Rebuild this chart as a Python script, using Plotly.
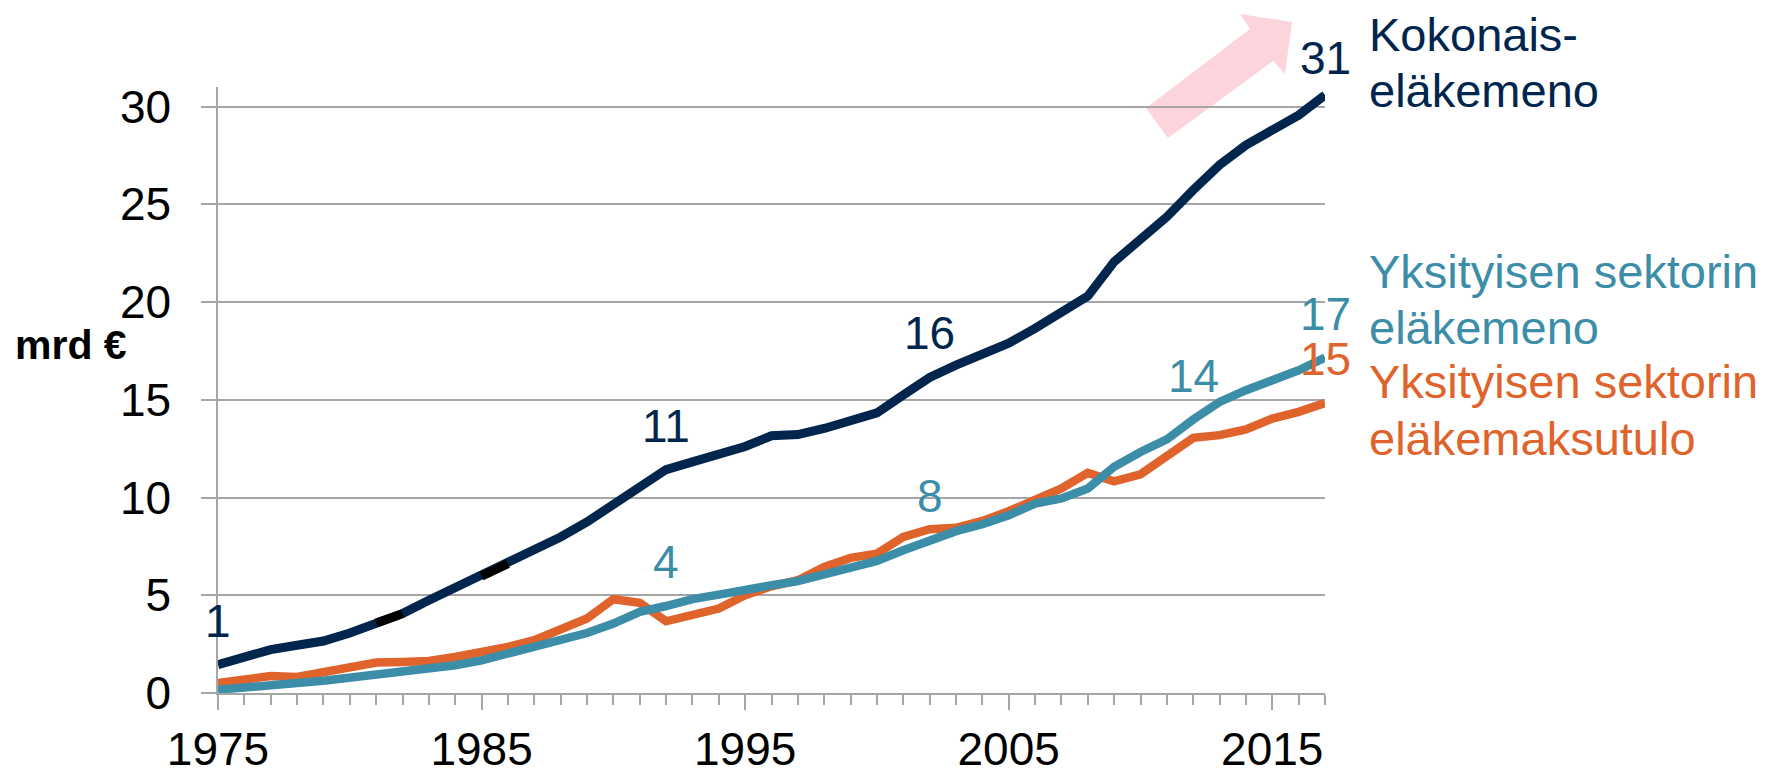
import plotly.graph_objects as go

# Eläkemenot ja maksutulo, mrd €
years = list(range(1975, 2018))

kokonais = [1.45, 1.84, 2.22, 2.44, 2.66, 3.07, 3.58, 4.06, 4.74, 5.39,
            5.98, 6.62, 7.30, 7.98, 8.75, 9.61, 10.54, 11.43, 11.82, 12.16,
            12.61, 13.16, 13.22, 13.53, 13.92, 14.33, 15.24, 16.14, 16.77, 17.37,
            17.90, 18.65, 19.50, 20.30, 22.06, 23.17, 24.36, 25.73, 27.01, 28.03,
            28.80, 29.56, 30.59]

yks_meno = [0.17, 0.31, 0.46, 0.51, 0.63, 0.77, 0.91, 1.06, 1.25, 1.42,
            1.67, 2.02, 2.30, 2.65, 3.07, 3.55, 4.15, 4.45, 4.80, 5.03,
            5.30, 5.51, 5.72, 6.07, 6.40, 6.76, 7.30, 7.81, 8.28, 8.63,
            9.09, 9.69, 9.95, 10.46, 11.57, 12.33, 12.97, 13.99, 14.89, 15.49,
            16.00, 16.51, 17.16]

yks_maksu = [0.51, 0.69, 0.87, 0.82, 1.07, 1.42, 1.56, 1.59, 1.64, 1.84,
             2.08, 2.36, 2.70, 3.21, 3.81, 4.80, 4.61, 3.67, 4.03, 4.32,
             5.00, 5.46, 5.77, 6.45, 6.91, 7.13, 7.98, 8.38, 8.45, 8.80,
             9.30, 9.86, 10.46, 11.26, 10.83, 11.19, 12.16, 13.05, 13.19, 13.48,
             14.04, 14.38, 14.84]

# vuodet, joille arvo näytetään viivan yläpuolella
label_years_kokonais = [1975, 1992, 2002, 2017]
label_years_yks_meno = [1992, 2002, 2012, 2017]
label_years_yks_maksu = [2017]

# mustat pätkät alkuperäisessä kuvassa
black_years = [1981, 1982, None, 1985, 1986]

NAVY = "#00264d"
TEAL = "#3b8da8"
ORANGE = "#e0632b"
GRID = "#a6a6a6"
FONT = "Liberation Sans, Arial, sans-serif"

W, H = 1772, 771
L, R, T, B = 218, 447, 87, 78
PW, PH = W - L - R, H - T - B


def paper(px, py):
    return (px - L) / PW, (H - B - py) / PH


fig = go.Figure()

fig.add_trace(go.Scatter(x=years, y=yks_maksu, mode="lines", name="Yksityisen sektorin eläkemaksutulo",
                         line=dict(color=ORANGE, width=8.5)))
fig.add_trace(go.Scatter(x=years, y=yks_meno, mode="lines", name="Yksityisen sektorin eläkemeno",
                         line=dict(color=TEAL, width=8.5)))
fig.add_trace(go.Scatter(x=years, y=kokonais, mode="lines", name="Kokonaiseläkemeno",
                         line=dict(color=NAVY, width=9)))
fig.add_trace(go.Scatter(
    x=black_years,
    y=[kokonais[years.index(y)] if y else None for y in black_years],
    mode="lines", line=dict(color="black", width=9), connectgaps=False,
))

# arvot viivojen yläpuolelle
for yrs, vals, col in [(label_years_kokonais, kokonais, NAVY),
                       (label_years_yks_meno, yks_meno, TEAL),
                       (label_years_yks_maksu, yks_maksu, ORANGE)]:
    for yr in yrs:
        v = vals[years.index(yr)]
        shift = 37 if v > 30 else 44  # ylin nimiö on lähempänä viivaa
        fig.add_annotation(x=yr, y=v, text=str(round(v)), showarrow=False,
                           yshift=shift, xanchor="center", yanchor="middle",
                           font=dict(size=46, color=col, family=FONT))

# sarjojen nimet oikealla
side_labels = [
    ("Kokonais-", 34, NAVY), ("eläkemeno", 90, NAVY),
    ("Yksityisen sektorin", 271, TEAL), ("eläkemeno", 327, TEAL),
    ("Yksityisen sektorin", 382, ORANGE), ("eläkemaksutulo", 438, ORANGE),
]
for text, py, col in side_labels:
    xp, yp = paper(1367, py)
    fig.add_annotation(xref="paper", yref="paper", x=xp, y=yp, text=text,
                       showarrow=False, xanchor="left", yanchor="middle",
                       font=dict(size=47, color=col, family=FONT))

xp, yp = paper(13, 345)
fig.add_annotation(xref="paper", yref="paper", x=xp, y=yp, text="<b>mrd €</b>",
                   showarrow=False, xanchor="left", yanchor="middle",
                   font=dict(size=41, color="black", family=FONT))

# vaaleanpunainen nuoli
arrow_px = [(1146, 108), (1250, 29), (1240, 14), (1292, 22), (1285, 74), (1273, 61), (1168, 138)]
pts = [paper(x, y) for x, y in arrow_px]
path = "M " + " L ".join(f"{x:.4f},{y:.4f}" for x, y in pts) + " Z"
fig.add_shape(type="path", path=path, xref="paper", yref="paper",
              fillcolor="#fbd5db", line=dict(width=0), layer="below")

fig.update_xaxes(
    range=[1975, 2017], tick0=1975, dtick=10,
    showgrid=False, zeroline=False, automargin=False,
    showline=True, linecolor=GRID, linewidth=1.5,
    ticks="outside", ticklen=15, tickcolor=GRID, tickwidth=1.5,
    minor=dict(dtick=1, tick0=1975, ticks="outside", ticklen=10, tickcolor=GRID, tickwidth=1.5),
    tickfont=dict(size=46, color="black", family=FONT),
)
fig.update_yaxes(
    range=[0, 31], tick0=0, dtick=5,
    showgrid=True, gridcolor=GRID, gridwidth=1.5, zeroline=False, automargin=False,
    showline=True, linecolor=GRID, linewidth=1.5,
    ticks="outside", ticklen=15, tickcolor=GRID, tickwidth=1.5,
    ticklabelstandoff=21,
    tickfont=dict(size=46, color="black", family=FONT),
)

fig.update_layout(
    width=W, height=H,
    margin=dict(l=L, r=R, t=T, b=B),
    paper_bgcolor="white", plot_bgcolor="white",
    showlegend=False,
    font=dict(family=FONT),
)

fig.write_html("out.html", config={"displayModeBar": False},
               post_script="document.body.style.margin='0';")
